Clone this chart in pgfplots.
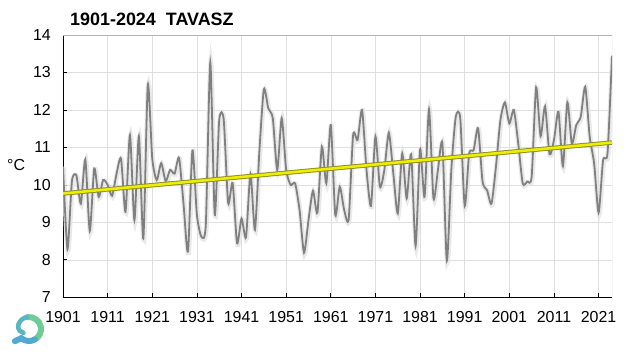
\documentclass[border=0pt]{standalone}
\usepackage{fontspec}
\setmainfont{Liberation Sans}
\usepackage{pgfplots}
\pgfplotsset{compat=1.18}
\definecolor{curvegray}{RGB}{128,128,128}
\definecolor{trendy}{RGB}{238,238,0}
\definecolor{trendo}{RGB}{140,140,40}
\definecolor{logog}{RGB}{110,205,150}
\definecolor{logob}{RGB}{80,170,210}
\begin{document}
\begin{tikzpicture}
\useasboundingbox (0bp,0bp) rectangle (640bp,357bp);
\node[anchor=base west, font=\fontsize{18}{20}\selectfont\bfseries, inner sep=0pt] at (70bp,331bp) {1901-2024\ \ TAVASZ};
\node[anchor=west, font=\fontsize{16}{18}\selectfont, inner sep=0pt] at (7bp,192bp) {°C};
% logo
\draw[line width=6bp, logog, line cap=round] (29bp,28bp) ++(100:12bp) arc[start angle=100, end angle=-60, radius=12bp];
\draw[line width=6bp, logob, line cap=round] (29bp,28bp) ++(-60:12bp) arc[start angle=-60, end angle=-130, radius=12bp] -- ++(-155:7bp);
\draw[line width=4.5bp, logob!70!logog, line cap=round] (29bp,28bp) ++(100:12bp) arc[start angle=100, end angle=160, radius=11bp] arc[start angle=160, end angle=260, radius=6.5bp];
\begin{axis}[
  at={(63bp,59.7bp)}, anchor=south west,
  scale only axis, width=549bp, height=262.3bp,
  xmin=1901, xmax=2024, ymin=7, ymax=14,
  xtick={1901,1911,...,2021}, ytick={7,...,14},
  axis x line*=bottom, axis y line*=left,
  axis line style={black, line width=0.9pt, -},
  tick align=inside, major tick length=4bp,
  tick style={black, line width=0.7pt},
  grid=major, major grid style={gray!25, line width=0.5pt},
  /pgf/number format/assume math mode=true,
  /pgf/number format/1000 sep={},
  tick label style={font=\fontsize{16}{18}\selectfont, inner sep=0pt},
  xticklabel style={anchor=north, yshift=-14bp},
  yticklabel style={anchor=east, xshift=-12bp},
  clip=true,
]
\draw[gray!60, line width=0.8pt] (rel axis cs:0,1) -- (rel axis cs:1,1) -- (rel axis cs:1,0);
\pgfplotstableread{
year t
1901 10.49
1902 8.28
1903 10.1
1904 10.25
1905 9.5
1906 10.68
1907 8.77
1908 10.44
1909 9.68
1910 10.13
1911 10.0
1912 9.71
1913 10.3
1914 10.7
1915 9.28
1916 11.33
1917 9.06
1918 11.3
1919 8.57
1920 12.67
1921 10.7
1922 10.13
1923 10.58
1924 10.1
1925 10.4
1926 10.3
1927 10.72
1928 9.5
1929 8.22
1930 10.92
1931 9.2
1932 8.62
1933 8.95
1934 13.27
1935 9.2
1936 11.73
1937 11.75
1938 9.52
1939 10.05
1940 8.44
1941 9.1
1942 8.6
1943 10.3
1944 8.8
1945 10.9
1946 12.55
1947 12.04
1948 11.78
1949 10.4
1950 11.78
1951 10.4
1952 10.0
1953 10.04
1954 9.33
1955 8.19
1956 9.06
1957 9.84
1958 9.26
1959 11.02
1960 10.04
1961 11.6
1962 9.2
1963 9.95
1964 9.33
1965 9.08
1966 11.33
1967 11.2
1968 12.0
1969 10.4
1970 9.44
1971 11.29
1972 9.95
1973 10.4
1974 11.39
1975 10.31
1976 9.24
1977 10.84
1978 9.64
1979 10.82
1980 8.37
1981 10.95
1982 9.68
1983 12.02
1984 9.64
1985 10.4
1986 11.1
1987 7.97
1988 10.4
1989 11.82
1990 11.78
1991 9.44
1992 10.84
1993 10.93
1994 11.51
1995 10.09
1996 9.86
1997 9.5
1998 10.49
1999 11.73
2000 12.2
2001 11.64
2002 12.0
2003 11.1
2004 10.04
2005 10.09
2006 10.22
2007 12.6
2008 11.3
2009 12.1
2010 10.82
2011 11.2
2012 11.95
2013 10.5
2014 12.2
2015 11.1
2016 11.6
2017 11.82
2018 12.62
2019 11.29
2020 10.57
2021 9.26
2022 10.66
2023 10.85
2024 13.45
}\spring
\addplot[smooth, tension=0.4, gray!22, line width=5bp, no markers, opacity=0.8, yshift=-1bp, xshift=0.5bp] table[x=year,y=t] {\spring};
\addplot[smooth, tension=0.4, curvegray, line width=1.8bp, no markers] table[x=year,y=t] {\spring};
\addplot[trendo, line width=4.5bp, no markers] coordinates {(1901,9.77) (2024,11.13)};
\addplot[trendy, line width=2.6bp, no markers] coordinates {(1901,9.77) (2024,11.13)};
\end{axis}
\end{tikzpicture}
\end{document}
